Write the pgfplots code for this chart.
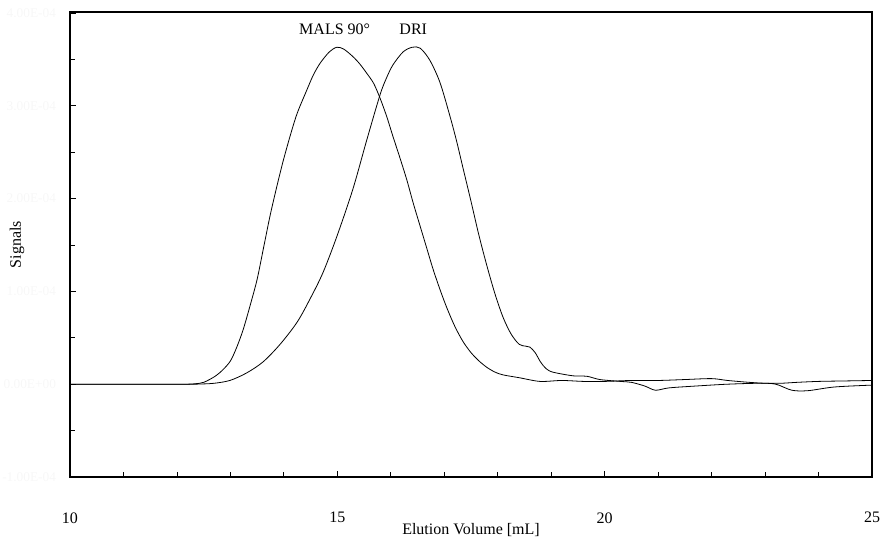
\documentclass[border=0pt]{standalone}
\usepackage{fontspec}
\setmainfont{Liberation Serif}
\usepackage{pgfplots}
\pgfplotsset{compat=1.18}
\begin{document}
\begin{tikzpicture}
\begin{axis}[
  scale only axis,
  width=601.5pt, height=348.75pt,
  xmin=10, xmax=25, ymin=-1, ymax=4.01,
  xtick={10,15,20,25},
  minor x tick num=4,
  ytick={-1,0,1,2,3,4},
  yticklabels={-1.00E-04,0.00E+00,1.00E-04,2.00E-04,3.00E-04,4.00E-04},
  minor y tick num=1,
  tick align=inside,
  xtick pos=bottom, ytick pos=left,
  major tick length=4.5pt, minor tick length=3.5pt,
  tick style={black, line width=0.6pt},
  axis line style={black, line width=0.8pt},
  /pgf/number format/assume math mode=true,
  tick label style={font=\fontsize{12}{14}\selectfont},
  xticklabel style={yshift=-23pt},
  yticklabel style={text=black!3, xshift=-7pt, font=\fontsize{10}{12}\selectfont},
  xlabel={Elution Volume [mL]},
  ylabel={Signals},
  label style={font=\fontsize{12}{14}\selectfont},
  xlabel style={at={(axis description cs:0.5,0)}, anchor=center, yshift=-40pt},
  ylabel style={at={(axis description cs:-0.066,0.5)}, anchor=center},
  clip=false,
]
\addplot[black, line width=0.6pt, smooth, tension=0.5] coordinates {
(10,0) (10.5,0) (11,0) (11.5,0) (12,0) (12.2,0) (12.35,0.005) (12.50,0.02) (12.70,0.08) (12.85,0.15) (13.00,0.25) (13.12,0.40)
(13.24,0.59) (13.37,0.85) (13.50,1.13) (13.62,1.47) (13.74,1.81) (13.86,2.11)
(13.98,2.39) (14.12,2.68) (14.25,2.92) (14.43,3.17) (14.55,3.33) (14.68,3.46)
(14.85,3.58) (14.99,3.63) (15.12,3.61) (15.29,3.53) (15.42,3.45) (15.55,3.35)
(15.68,3.24) (15.80,3.08) (15.92,2.89) (16.04,2.67) (16.17,2.44) (16.30,2.20)
(16.42,1.95) (16.55,1.70) (16.67,1.47) (16.79,1.24) (16.92,1.02) (17.05,0.82)
(17.20,0.62) (17.35,0.46) (17.50,0.34) (17.65,0.25) (17.80,0.18) (17.95,0.13)
(18.10,0.10) (18.40,0.07) (18.79,0.03) (19.2,0.04) (19.6,0.03) (20.0,0.03)
(20.5,0.04) (21.0,0.04) (21.5,0.05) (22.0,0.06) (22.3,0.04) (22.7,0.02)
(23.0,0.01) (23.3,0.01) (23.6,0.02) (24.0,0.03) (24.5,0.035) (25,0.04)
};
\addplot[black, line width=0.6pt, smooth, tension=0.5] coordinates {
(10,0) (10.5,0) (11,0) (11.5,0) (12,0) (12.3,0) (12.50,0.003) (12.70,0.01) (12.99,0.04) (13.30,0.12) (13.61,0.24) (13.93,0.43)
(14.25,0.67) (14.50,0.93) (14.73,1.20) (14.99,1.59) (15.29,2.10) (15.55,2.63)
(15.80,3.12) (15.92,3.30) (16.04,3.44) (16.23,3.58) (16.40,3.63) (16.55,3.62)
(16.73,3.49) (16.92,3.25) (17.11,2.88) (17.23,2.62) (17.35,2.33) (17.50,1.97)
(17.65,1.60) (17.80,1.27) (17.95,0.97) (18.10,0.72) (18.25,0.54) (18.40,0.43)
(18.52,0.41) (18.60,0.40) (18.70,0.34) (18.80,0.24) (18.90,0.17) (19.03,0.13)
(19.41,0.09) (19.67,0.085) (19.91,0.05) (20.29,0.03) (20.50,0.02)
(20.75,-0.02) (20.95,-0.065) (21.2,-0.04) (21.7,-0.02) (22.3,0.0) (22.9,0.01)
(23.2,0.0) (23.5,-0.065) (23.8,-0.07) (24.3,-0.03) (25,-0.01)
};
\node[font=\fontsize{12}{14}\selectfont] at (axis cs:14.95,3.82) {MALS 90°};
\node[font=\fontsize{12}{14}\selectfont] at (axis cs:16.42,3.82) {DRI};
\coordinate (sw) at (rel axis cs:0,0);
\coordinate (ne) at (rel axis cs:1,1);
\end{axis}
\pgfresetboundingbox
\path[use as bounding box] ([xshift=-52.5pt,yshift=-46.5pt]sw) rectangle ([xshift=6pt,yshift=9pt]ne);
\end{tikzpicture}
\end{document}
